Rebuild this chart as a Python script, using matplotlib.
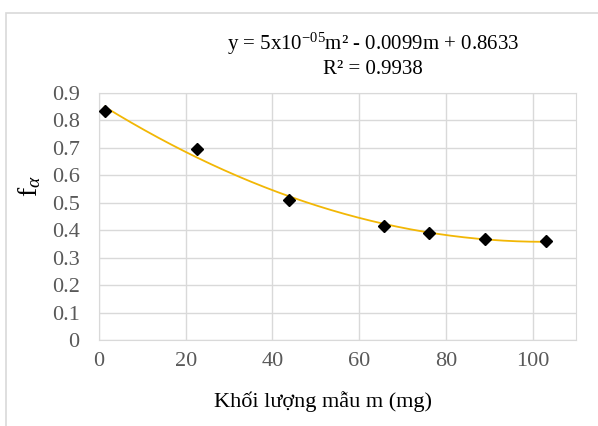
import numpy as np
import matplotlib
matplotlib.use('Agg')
import matplotlib.pyplot as plt
from matplotlib.patches import Rectangle

plt.rcParams['font.family'] = ['Liberation Serif', 'DejaVu Serif']
plt.rcParams['mathtext.fontset'] = 'custom'
plt.rcParams['mathtext.rm'] = 'Liberation Serif'
plt.rcParams['mathtext.it'] = 'Liberation Serif:italic'

# data
mass = [1.3, 22.6, 43.9, 65.6, 76.2, 89.1, 103.0]
f_alpha = [0.836, 0.696, 0.510, 0.415, 0.390, 0.369, 0.361]
x_ticks = [0, 20, 40, 60, 80, 100]
y_ticks = [0, 0.1, 0.2, 0.3, 0.4, 0.5, 0.6, 0.7, 0.8, 0.9]

fig = plt.figure(figsize=(5.98, 4.26), dpi=100)
ax = fig.add_axes([0.1656, 0.2019, 0.7977, 0.5798])

# outer chart border
fig.patches.append(Rectangle((6/598, -0.05), 1.2, 1 - 13/426 + 0.05,
                             transform=fig.transFigure, fill=False,
                             edgecolor='#d9d9d9', lw=1.2))

# polynomial trendline (order 2)
coef = np.polyfit(mass, f_alpha, 2)
xs = np.linspace(min(mass), max(mass), 200)
ax.plot(xs, np.polyval(coef, xs), color='#f2b705', lw=1.3, zorder=2)
ax.plot(mass, f_alpha, 'D', color='black', markersize=6.5, zorder=3)

ax.set_xlim(0, 110)
ax.set_ylim(0, 0.9)
ax.set_xticks(x_ticks)
ax.set_yticks(y_ticks)
ax.set_xticklabels([str(v) for v in x_ticks])
ax.set_yticklabels(['0'] + ['%.1f' % v for v in y_ticks[1:]])
ax.grid(True, color='#d9d9d9', lw=1)
ax.set_axisbelow(True)
for s in ax.spines.values():
    s.set_color('#d9d9d9')
ax.tick_params(length=0, labelsize=16, colors='#595959')
ax.tick_params(axis='x', pad=9)
ax.tick_params(axis='y', pad=14)

ax.set_xlabel('Khối lượng mẫu m (mg)', fontsize=16, va='center')
ax.xaxis.set_label_coords(0.47, -0.251)
ax.set_ylabel(r'f$_{\alpha}$', fontsize=20, va='center')
ax.yaxis.set_label_coords(-0.1447, 0.625)

fig.text(373/598, 1 - 44/426,
         r'y = 5x10$^{\mathregular{-05}}$m² - 0.0099m + 0.8633',
         ha='center', va='center', fontsize=15)
fig.text(373/598, 1 - 70/426, 'R² = 0.9938', ha='center', va='center', fontsize=15)

fig.savefig('out.png', dpi=100)
